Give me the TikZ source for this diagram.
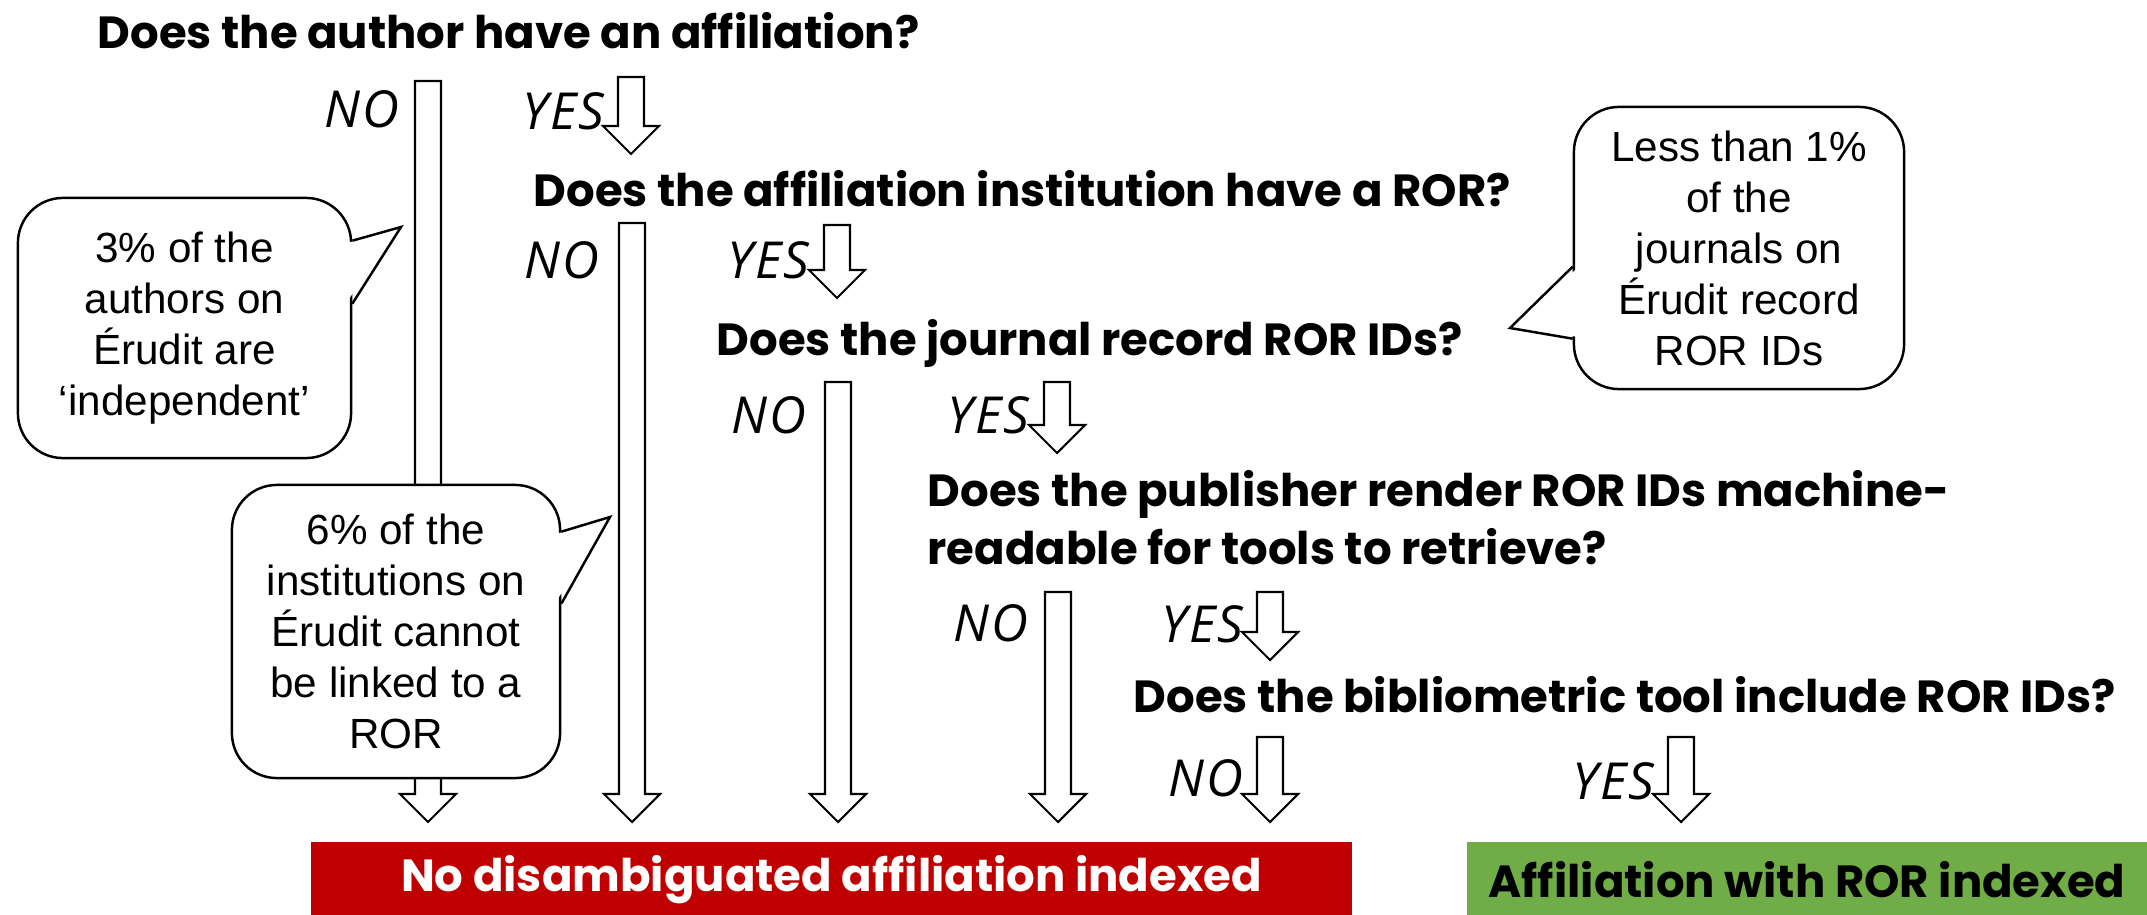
\documentclass[tikz,border=0pt]{standalone}
\usepackage{fontspec}
\usepackage{xcolor}
\usepackage{tikz}
\usetikzlibrary{calc}

\newfontfamily\notefont{Liberation Sans}
\newfontfamily\handfont{Open Sans}[LetterSpace=4]
\newfontfamily\qfam{Poppins}
\newcommand{\qfont}{\qfam\bfseries}
\definecolor{failred}{HTML}{C00000}
\definecolor{okgreen}{HTML}{70AD47}

\begin{document}
\begin{tikzpicture}[
x=0.01cm,
y=-0.01cm,
question/.style={anchor=base west,inner sep=0pt,font=\qfont\fontsize{12.8}{16.5}\selectfont},
answer/.style={anchor=east,inner sep=0pt,font=\handfont\itshape\fontsize{14.5}{16}\selectfont},
note/.style={rectangle,rounded corners=0.45cm,draw,line width=0.7pt,fill=white,align=center,inner sep=0pt,font=\notefont\fontsize{12}{14.5}\selectfont},
result/.style={rectangle,inner sep=0pt,minimum height=0.76cm,font=\qfont\fontsize{12.8}{16}\selectfont},
blk/.style={draw,fill=white,line width=0.6pt,line join=miter,
  to path={let \p1=(\tikztostart),\p2=(\tikztotarget) in
    (\x1-0.13cm,\y1) -- (\x1-0.13cm,\y2+0.28cm) -- (\x1-0.28cm,\y2+0.28cm) -- (\x2,\y2)
    -- (\x1+0.28cm,\y2+0.28cm) -- (\x1+0.13cm,\y2+0.28cm) -- (\x1+0.13cm,\y1) -- cycle}},
tail/.style={draw,line width=0.7pt,line join=miter}
]
\useasboundingbox (0,0) rectangle (2147,915);

% questions
\node[question] (q1) at (97,48) {Does the author have an affiliation?};
\node[question] (q2) at (533,206) {Does the affiliation institution have a ROR?};
\node[question] (q3) at (716,355) {Does the journal record ROR IDs?};
\node[question,align=left,anchor=north west] (q4) at (927,470) {Does the publisher render ROR IDs machine-\\readable for tools to retrieve?};
\node[question] (q5) at (1133,712) {Does the bibliometric tool include ROR IDs?};

% outcomes
\node[result,fill=failred,text=white,minimum width=10.41cm] (fail) at (831.5,880) {No disambiguated affiliation indexed};
\node[result,fill=okgreen,minimum width=6.80cm] (ok) at (1807,880) {Affiliation with ROR indexed};

% answers
\node[answer] (no1) at (400,109) {NO};
\node[answer] (yes1) at (605,111) {YES};
\node[answer] (no2) at (600,260) {NO};
\node[answer] (yes2) at (810,260) {YES};
\node[answer] (no3) at (807,415) {NO};
\node[answer] (yes3) at (1030,415) {YES};
\node[answer] (no4) at (1029,623) {NO};
\node[answer] (yes4) at (1244,624) {YES};
\node[answer] (no5) at (1244,778) {NO};
\node[answer] (yes5) at (1655,781) {YES};

% arrow ends
\coordinate (n1a) at (428,81);   \coordinate (n1b) at (428,822);
\coordinate (y1a) at (631,77);   \coordinate (y1b) at (631,154);
\coordinate (n2a) at (632,223);  \coordinate (n2b) at (632,822);
\coordinate (y2a) at (837,225);  \coordinate (y2b) at (837,298);
\coordinate (n3a) at (838,382);  \coordinate (n3b) at (838,822);
\coordinate (y3a) at (1057,382); \coordinate (y3b) at (1057,453);
\coordinate (n4a) at (1058,592); \coordinate (n4b) at (1058,822);
\coordinate (y4a) at (1270,592); \coordinate (y4b) at (1270,660);
\coordinate (n5a) at (1270,737); \coordinate (n5b) at (1270,822);
\coordinate (y5a) at (1681,737); \coordinate (y5b) at (1681,822);

\draw[blk] (n1a) to (n1b);
\draw[blk] (y1a) to (y1b);
\draw[blk] (n2a) to (n2b);
\draw[blk] (y2a) to (y2b);
\draw[blk] (n3a) to (n3b);
\draw[blk] (y3a) to (y3b);
\draw[blk] (n4a) to (n4b);
\draw[blk] (y4a) to (y4b);
\draw[blk] (n5a) to (n5b);
\draw[blk] (y5a) to (y5b);

% callouts
\node[note,minimum width=3.33cm,minimum height=2.60cm] (c1) at (184.5,328) {3\% of the\\authors on\\Érudit are\\‘independent’};
\node[note,minimum width=3.28cm,minimum height=2.93cm] (c2) at (396,631.5) {6\% of the\\institutions on\\Érudit cannot\\be linked to a\\ROR};
\node[note,minimum width=3.30cm,minimum height=2.82cm] (c3) at (1739,248) {Less than 1\%\\of the\\journals on\\Érudit record\\ROR IDs};

\coordinate (t1) at (401,227);
\coordinate (t2) at (610,517);
\coordinate (t3) at (1510,328);
\fill[white] ($(c1.north east)+(-4,46)$) -- (t1) -- ($(c1.north east)+(-4,103)$) -- cycle;
\draw[tail] ($(c1.north east)+(0,44)$) -- (t1) -- ($(c1.north east)+(0,107)$);
\fill[white] ($(c2.north east)+(-4,50)$) -- (t2) -- ($(c2.north east)+(-4,116)$) -- cycle;
\draw[tail] ($(c2.north east)+(0,48)$) -- (t2) -- ($(c2.north east)+(0,120)$);
\fill[white] ($(c3.north west)+(4,163)$) -- (t3) -- ($(c3.north west)+(4,231)$) -- cycle;
\draw[tail] ($(c3.north west)+(0,161)$) -- (t3) -- ($(c3.north west)+(0,233)$);
\end{tikzpicture}
\end{document}
